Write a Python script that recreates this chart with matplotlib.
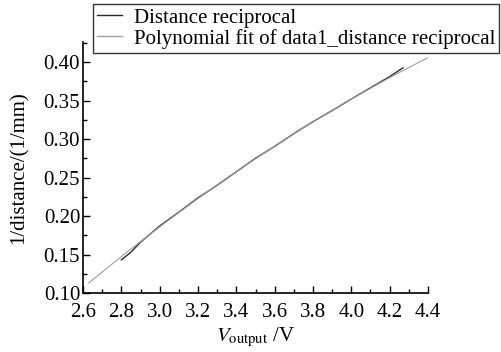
import matplotlib
matplotlib.use("Agg")
import matplotlib.pyplot as plt
from matplotlib.ticker import MultipleLocator

plt.rcParams['font.family'] = ['Liberation Serif', 'DejaVu Serif']
plt.rcParams['mathtext.fontset'] = 'stix'

# measured data (V_output, 1/distance)
data_v = [2.80, 2.85, 2.90, 3.00, 3.10, 3.20, 3.30, 3.40, 3.50, 3.60,
          3.70, 3.80, 3.90, 4.00, 4.10, 4.20, 4.27]
data_inv = [0.1430, 0.1530, 0.1660, 0.1870, 0.2050, 0.2235, 0.2400, 0.2575,
            0.2750, 0.2905, 0.3070, 0.3225, 0.3370, 0.3520, 0.3665, 0.3810,
            0.3925]

# polynomial fit
fit_v = [2.63, 2.80, 2.90, 3.00, 3.10, 3.20, 3.30, 3.40, 3.50, 3.60,
         3.70, 3.80, 3.90, 4.00, 4.10, 4.20, 4.30, 4.40]
fit_inv = [0.1131, 0.1473, 0.1668, 0.1859, 0.2045, 0.2227, 0.2404, 0.2577,
           0.2745, 0.2909, 0.3068, 0.3223, 0.3373, 0.3519, 0.3660, 0.3797,
           0.3929, 0.4057]

labels = ["Distance reciprocal", "Polynomial fit of data1_distance reciprocal"]

fig = plt.figure(figsize=(5.01, 3.52), dpi=100)
ax = fig.add_axes([83 / 501, 1 - 293 / 352, 345 / 501, 251 / 352])

l1, = ax.plot(data_v, data_inv, color='#2a2a2a', lw=1.0)
l2, = ax.plot(fit_v, fit_inv, color='#a0a0a0', lw=0.8)

ax.set_xlim(2.6, 4.4)
ax.set_ylim(0.10, 0.426)
ax.xaxis.set_major_locator(MultipleLocator(0.2))
ax.xaxis.set_minor_locator(MultipleLocator(0.1))
ax.yaxis.set_major_locator(MultipleLocator(0.05))
ax.yaxis.set_minor_locator(MultipleLocator(0.025))
ax.xaxis.set_major_formatter(plt.FormatStrFormatter('%.1f'))
ax.yaxis.set_major_formatter(plt.FormatStrFormatter('%.2f'))

for s in ['top', 'right']:
    ax.spines[s].set_visible(False)
for s in ['left', 'bottom']:
    ax.spines[s].set_linewidth(1.2)

ax.tick_params(which='both', direction='in', width=1.0, labelsize=15)
ax.tick_params(which='major', length=5)
ax.tick_params(which='minor', length=3)
ax.tick_params(axis='y', pad=2)
ax.tick_params(axis='x', pad=7)

ax.set_xlabel(r'$V_{\mathrm{output}}$ /V', fontsize=15, labelpad=3)
ax.set_ylabel('1/distance/(1/mm)', fontsize=15, labelpad=11)

leg = fig.legend([l1, l2], labels, loc='upper left',
                 bbox_to_anchor=(93 / 501, 1 - 4 / 352), fontsize=15,
                 frameon=True, fancybox=False, borderpad=0.2,
                 labelspacing=0.05, handlelength=1.2, handletextpad=0.55,
                 borderaxespad=0)
leg.get_frame().set_edgecolor('black')
leg.get_frame().set_linewidth(1.0)
for h in leg.get_lines():
    h.set_linewidth(1.0)

fig.savefig('out.png', dpi=100)
